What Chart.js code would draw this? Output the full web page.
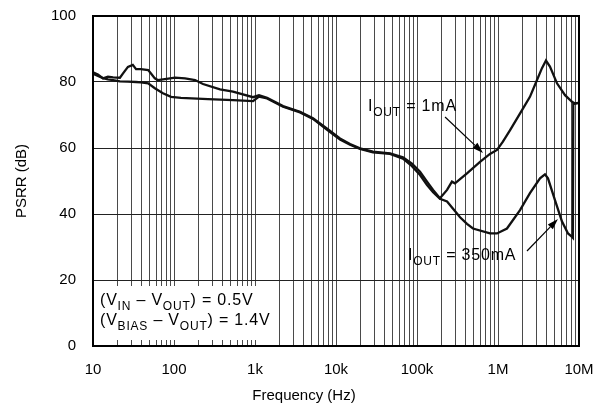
<!DOCTYPE html>
<html>
<head>
<meta charset="utf-8">
<script src="https://cdn.jsdelivr.net/npm/chart.js@4.4.0/dist/chart.umd.min.js"></script>
<style>
html, body { margin: 0; padding: 0; background: #fff; }
</style>
</head>
<body>
<canvas id="psrr" width="600" height="412"></canvas>
<script>
(function () {
   // decades on the frequency axis and the labels printed under them
   var decades = [10, 100, 1e3, 1e4, 1e5, 1e6, 1e7];
   var decadeLabels = ['10', '100', '1k', '10k', '100k', '1M', '10M'];
   var minorSteps = [1, 2, 3, 4, 5, 6, 7, 8, 9];

   // I_OUT = 1mA curve (Hz, dB)
   var freq1mA = [10, 11.5, 13.3, 15.3, 17.7, 21.5, 23.5, 27, 31, 34, 39, 48, 52, 58, 63, 77, 103, 137, 182, 228,
      370, 535, 945, 1120, 1410, 2220, 3600, 5200, 7700, 11200, 14900, 19800, 28600, 46400, 67100, 86700,
      109000, 133000, 158000, 192000, 235000, 270000, 294000, 414000, 600000, 796000, 972000,
      1.15e6, 1.41e6, 1.98e6, 2.48e6, 3.03e6, 3.49e6, 3.91e6, 4.38e6, 5.35e6, 6.72e6, 8.2e6, 8.93e6, 1e7];
   var psrr1mA = [82.9, 82.3, 81.1, 81.6, 81.4, 81.3, 82.6, 84.6, 85.2, 83.9, 83.9, 83.6, 82.6, 81.1, 80.6, 80.9, 81.3, 81.1, 80.6, 79.4,
      77.8, 77.1, 75.4, 76.0, 75.2, 72.7, 71.0, 69.0, 65.9, 62.9, 61.2, 59.9, 58.9, 58.4, 57.2, 55.3,
      52.8, 49.8, 47.3, 44.8, 47.3, 49.8, 49.3, 52.3, 55.8, 58.2, 59.4,
      61.9, 65.4, 71.5, 75.5, 80.6, 84.2, 86.5, 84.7, 79.6, 76.0, 74.0, 73.5, 73.7];

   // I_OUT = 350mA curve (Hz, dB)
   var freq350mA = [10, 11.5, 13.3, 15.3, 17.7, 21.5, 27, 34, 39, 48, 58, 73, 92, 122, 263,
      535, 945, 1120, 1410, 2220, 3600, 5200, 7700, 11200, 14900, 19800, 28600, 46400, 67100, 86700,
      109000, 133000, 158000, 192000, 235000, 340000, 414000, 491000, 796000, 972000,
      1.29e6, 1.87e6, 2.48e6, 3.3e6, 3.8e6, 4.14e6, 5.05e6, 6.17e6, 7.32e6, 8.2e6, 8.4e6, 8.5e6, 8.93e6, 1e7];
   var psrr350mA = [82.5, 81.8, 81.2, 80.8, 80.6, 80.2, 80.1, 80.0, 79.9, 79.6, 78.1, 76.6, 75.5, 75.2, 74.8,
      74.5, 74.2, 75.6, 75.0, 72.5, 70.8, 68.8, 65.6, 62.6, 61.0, 59.7, 58.7, 58.2, 56.8, 54.5,
      51.8, 48.8, 46.6, 44.6, 43.8, 39.0, 37.0, 35.6, 34.1, 34.1,
      35.6, 41.2, 46.3, 50.8, 52.0, 50.8, 44.2, 37.7, 34.1, 33.1, 32.8, 73.3, 73.5, 73.7];

   var fontFamily = '"Liberation Sans", Arial, Helvetica, sans-serif';
   Chart.defaults.font.family = fontFamily;
   Chart.defaults.color = '#000';

   function toPoints(xs, ys) {
      var pts = [];
      for (var i = 0; i < xs.length; i++) {
         pts.push({x: xs[i], y: ys[i]});
      }
      return pts;
   }

   // text with subscripts: parts = [[text, isSub], ...]
   function drawRich(ctx, x, y, parts, size) {
      for (var i = 0; i < parts.length; i++) {
         var sub = parts[i][1];
         ctx.font = (sub ? Math.round(size * 0.72) : size) + 'px ' + fontFamily;
         ctx.fillText(parts[i][0], x, y + (sub ? size * 0.32 : 0));
         x += ctx.measureText(parts[i][0]).width;
      }
   }

   function drawArrow(ctx, x1, y1, x2, y2) {
      var ang = Math.atan2(y2 - y1, x2 - x1);
      var len = 11, half = 3.5;
      ctx.beginPath();
      ctx.moveTo(x1, y1);
      ctx.lineTo(x2 - Math.cos(ang) * len, y2 - Math.sin(ang) * len);
      ctx.lineWidth = 1.2;
      ctx.stroke();
      ctx.beginPath();
      ctx.moveTo(x2, y2);
      ctx.lineTo(x2 - Math.cos(ang) * len - Math.sin(ang) * half, y2 - Math.sin(ang) * len + Math.cos(ang) * half);
      ctx.lineTo(x2 - Math.cos(ang) * len + Math.sin(ang) * half, y2 - Math.sin(ang) * len - Math.cos(ang) * half);
      ctx.closePath();
      ctx.fill();
   }

   var decorPlugin = {
      id: 'decor',
      beforeDatasetsDraw: function (chart) {
         var ctx = chart.ctx, a = chart.chartArea;
         var xs = chart.scales.x, ys = chart.scales.y;
         // white box for the conditions text
         ctx.save();
         ctx.fillStyle = '#fff';
         var top = ys.getPixelForValue(20) + 6;
         ctx.fillRect(a.left + 1, top, xs.getPixelForValue(2000) - 1 - (a.left + 1), a.bottom - 6 - top);
         ctx.restore();
      },
      afterDatasetsDraw: function (chart) {
         var ctx = chart.ctx, a = chart.chartArea;
         var xs = chart.scales.x, ys = chart.scales.y;
         ctx.save();
         // frame
         ctx.strokeStyle = '#000';
         ctx.lineWidth = 2;
         ctx.strokeRect(a.left, a.top, a.right - a.left, a.bottom - a.top);

         ctx.fillStyle = '#000';
         ctx.strokeStyle = '#000';
         ctx.textBaseline = 'alphabetic';
         ctx.textAlign = 'left';
         ctx.letterSpacing = '0.8px';

         drawRich(ctx, xs.getPixelForValue(24800), ys.getPixelForValue(71.2),
            [['I', false], ['OUT', true], [' = 1mA', false]], 16);
         drawArrow(ctx, xs.getPixelForValue(222000), ys.getPixelForValue(69.4),
            xs.getPixelForValue(653000), ys.getPixelForValue(58.5));

         drawRich(ctx, xs.getPixelForValue(77400), ys.getPixelForValue(26.1),
            [['I', false], ['OUT', true], [' = 350mA', false]], 16);
         drawArrow(ctx, xs.getPixelForValue(2.28e6), ys.getPixelForValue(28.8),
            xs.getPixelForValue(5.5e6), ys.getPixelForValue(38.5));

         var y20 = ys.getPixelForValue(20);
         drawRich(ctx, a.left + 7, y20 + 25,
            [['(V', false], ['IN', true], [' \u2013 V', false], ['OUT', true], [') = 0.5V', false]], 16);
         drawRich(ctx, a.left + 7, y20 + 45,
            [['(V', false], ['BIAS', true], [' \u2013 V', false], ['OUT', true], [') = 1.4V', false]], 16);

         // axis titles
         ctx.letterSpacing = '0px';
         ctx.font = '15px ' + fontFamily;
         ctx.textAlign = 'center';
         ctx.textBaseline = 'middle';
         ctx.fillText('Frequency (Hz)', 304, 396);
         ctx.translate(22, (a.top + a.bottom) / 2);
         ctx.rotate(-Math.PI / 2);
         ctx.fillText('PSRR (dB)', 0, 0);
         ctx.restore();
      }
   };

   var lineStyle = {
      borderColor: '#111',
      borderWidth: 2.3,
      pointRadius: 0,
      tension: 0,
      fill: false
   };

   new Chart(document.getElementById('psrr'), {
      type: 'line',
      data: {
         datasets: [
            Object.assign({label: 'IOUT = 1mA', data: toPoints(freq1mA, psrr1mA)}, lineStyle),
            Object.assign({label: 'IOUT = 350mA', data: toPoints(freq350mA, psrr350mA)}, lineStyle)
         ]
      },
      options: {
         responsive: false,
         animation: false,
         layout: {padding: {left: 0, top: 16, right: 21, bottom: 0}},
         plugins: {legend: {display: false}, tooltip: {enabled: false}},
         scales: {
            x: {
               type: 'logarithmic',
               min: 10,
               max: 1e7,
               afterBuildTicks: function (scale) {
                  var ticks = [];
                  for (var d = 0; d < decades.length - 1; d++) {
                     for (var m = 0; m < minorSteps.length; m++) {
                        ticks.push({value: decades[d] * minorSteps[m]});
                     }
                  }
                  ticks.push({value: decades[decades.length - 1]});
                  scale.ticks = ticks;
               },
               afterFit: function (scale) {
                  scale.height = 66;
                  scale.paddingLeft = 0;
                  scale.paddingRight = 0;
               },
               grid: {color: '#4a4a4a', lineWidth: 1, drawTicks: false},
               border: {display: false},
               ticks: {
                  autoSkip: false,
                  maxRotation: 0,
                  padding: 15,
                  font: {size: 15},
                  color: '#000',
                  callback: function (value) {
                     var i = decades.indexOf(value);
                     return i >= 0 ? decadeLabels[i] : '';
                  }
               }
            },
            y: {
               min: 0,
               max: 100,
               afterFit: function (scale) {
                  scale.width = 93;
                  scale.paddingTop = 0;
                  scale.paddingBottom = 0;
               },
               grid: {color: '#222', lineWidth: 1, drawTicks: false},
               border: {display: false},
               ticks: {stepSize: 20, padding: 17, font: {size: 15}, color: '#000'}
            }
         }
      },
      plugins: [decorPlugin]
   });
})();
</script>
</body>
</html>
